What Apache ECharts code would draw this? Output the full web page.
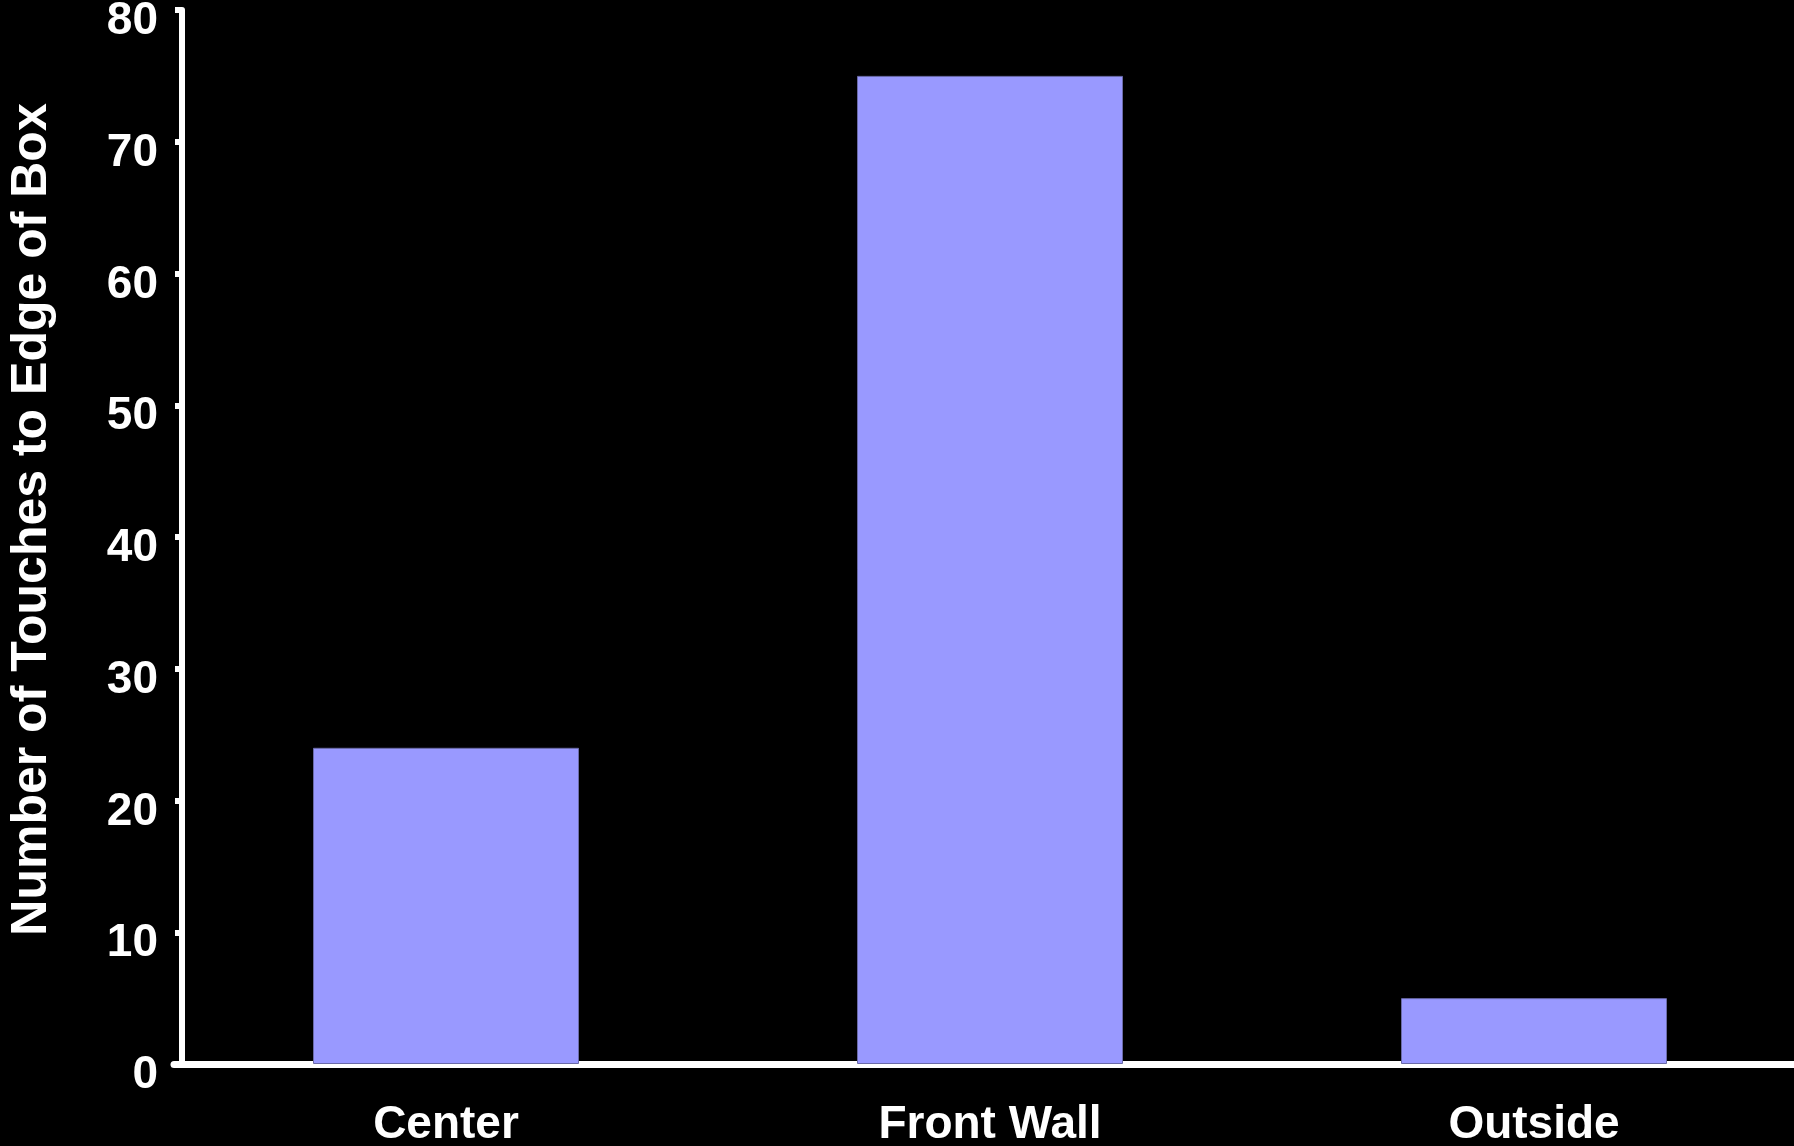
<!DOCTYPE html>
<html>
<head>
<meta charset="utf-8">
<style>
  html, body { margin: 0; padding: 0; background: #000; }
  #chart { width: 1794px; height: 1146px; }
</style>
<script src="https://cdn.jsdelivr.net/npm/echarts@6/dist/echarts.min.js"></script>
</head>
<body>
<div id="chart"></div>
<script>
// Touches to the edge of the box, by location
const categories = ['Center', 'Front Wall', 'Outside'];
const touches = [24, 75, 5];
const yTicks = { min: 0, max: 80, interval: 10 };
const yTitle = 'Number of Touches to Edge of Box';

const FONT = '"Liberation Sans", Arial, Helvetica, sans-serif';

const chart = echarts.init(document.getElementById('chart'), null, { renderer: 'canvas' });
chart.setOption({
  backgroundColor: '#000000',
  animation: false,
  grid: {
    left: 174, right: -12, top: 10, bottom: 82,
    containLabel: false,
    outerBoundsMode: 'none'
  },
  xAxis: {
    type: 'category',
    data: categories,
    axisLine: { show: true, lineStyle: { color: '#ffffff', width: 7 } },
    axisTick: { show: false },
    axisLabel: {
      color: '#ffffff', fontFamily: FONT, fontWeight: 'bold', fontSize: 46, margin: 38
    },
    splitLine: { show: false }
  },
  yAxis: {
    type: 'value',
    min: yTicks.min,
    max: yTicks.max,
    interval: yTicks.interval,
    offset: -8,
    name: yTitle,
    nameLocation: 'middle',
    nameGap: 125,
    nameTextStyle: {
      color: '#ffffff', fontFamily: FONT, fontWeight: 'bold', fontSize: 50,
      padding: [0, 0, 0, 35]
    },
    axisLine: { show: true, lineStyle: { color: '#ffffff', width: 6 } },
    axisTick: { show: true, inside: false, length: 7, lineStyle: { color: '#ffffff', width: 6 } },
    axisLabel: {
      color: '#ffffff', fontFamily: FONT, fontWeight: 'bold', fontSize: 46, margin: 24,
      verticalAlign: 'top', lineHeight: 23
    },
    splitLine: { show: false }
  },
  series: [{
    type: 'bar',
    data: touches,
    barWidth: 266,
    itemStyle: { color: '#9999ff', borderColor: '#6a6aa8', borderWidth: 1 }
  }]
});
</script>
</body>
</html>
